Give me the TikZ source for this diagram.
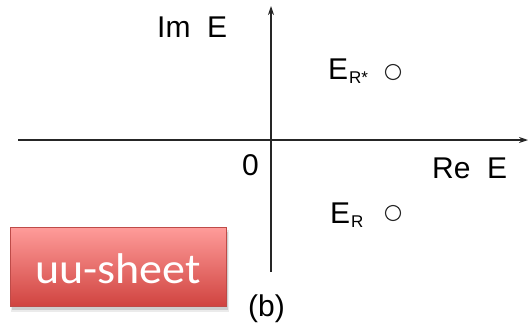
\documentclass[tikz,border=0pt]{standalone}
\usepackage{fontspec}
\setmainfont{Liberation Sans}
\newfontfamily\calib{Carlito}
\usetikzlibrary{arrows.meta}
\begin{document}
\begin{tikzpicture}[x=1pt,y=-1pt,
  axis/.style={line width=1.1pt, draw=black!85, -{Stealth[length=9pt,width=6pt]}},
  lbl/.style={font=\fontsize{30}{30}\selectfont, inner sep=0pt, anchor=base west},
  sublbl/.style={font=\fontsize{17}{17}\selectfont, inner sep=0pt, anchor=base west},
  pole/.style={circle, draw=black!85, line width=1.1pt, minimum size=15pt, inner sep=0pt}
]
\useasboundingbox (0,0) rectangle (528,333);
% axes
\coordinate (xs) at (18,140);
\coordinate (xe) at (528,140);
\coordinate (ys) at (271,272);
\coordinate (ye) at (271,6);
\draw[axis] (xs) -- (xe);
\draw[axis] (ys) -- (ye);
% labels
\node[lbl] (im) at (157,37) {Im\ \ E};
\node[lbl] (re) at (432,178) {Re\ \ E};
\node[lbl] (zero) at (242,175) {0};
\node[lbl] (erstar) at (328,79) {E};
\node[sublbl] (erstarsub) at (349,83) {R*};
\node[lbl] (er) at (330,223) {E};
\node[sublbl] (ersub) at (351,227) {R};
\node[pole] (p1) at (393,72) {};
\node[pole] (p2) at (393,213) {};
\node[lbl] (b) at (248,316) {(b)};
% uu-sheet box
\fill[black, opacity=0.08] (11,230) rectangle (229,312);
\fill[black, opacity=0.12] (12,232) rectangle (228,310);
\node[minimum width=216pt, minimum height=79pt, inner sep=0pt, line width=1pt,
  top color={rgb,255:red,255;green,156;blue,154},
  bottom color={rgb,255:red,208;green,68;blue,64},
  draw={rgb,255:red,190;green,75;blue,72}] (sheet) at (118,266.5) {};
\node[font=\calib\fontsize{43}{43}\selectfont, text=white, inner sep=0pt, anchor=base] (sheettext) at (118,283) {\scalebox{1.07}[1]{uu-sheet}};
\end{tikzpicture}
\end{document}
